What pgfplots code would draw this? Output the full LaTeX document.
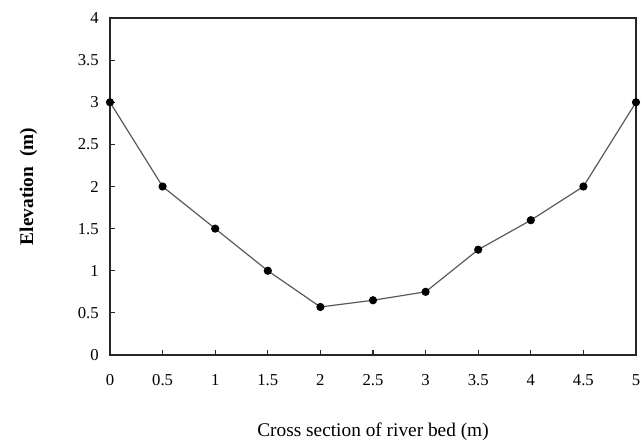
\documentclass[border=0pt]{standalone}
\usepackage{fontspec}
\setmainfont{Liberation Serif}
\usepackage{pgfplots}
\pgfplotsset{compat=1.18}
\usetikzlibrary{calc}
\begin{document}
\begin{tikzpicture}
\begin{axis}[
  scale only axis,
  width=394.5pt, height=252.75pt,
  xmin=0, xmax=5, ymin=0, ymax=4,
  xtick={0,0.5,...,5}, ytick={0,0.5,...,4},
  tick align=inside,
  xtick pos=bottom, ytick pos=left,
  major tick length=3.5pt,
  tick style={black!85, line width=0.8pt},
  axis line style={black!85, line width=0.9pt},
  /pgf/number format/assume math mode=true,
  ticklabel style={font=\fontsize{12.5}{14}\selectfont},
  xticklabel style={yshift=-11pt},
  yticklabel style={xshift=-5pt},
  xlabel={Cross section of river bed (m)},
  ylabel={\textbf{Elevation\ \ (m)}},
  label style={font=\fontsize{14.5}{16}\selectfont},
  xlabel style={at={(axis description cs:0.5,-0.228)}, anchor=center},
  ylabel style={at={(axis description cs:-0.155,0.5)}, anchor=center, rotate=0},
  clip=false,
]
\addplot[color=black!65, line width=0.9pt, mark=*, mark size=2.6pt, mark options={fill=black, draw=black}]
coordinates {
(0,3.0) (0.5,2.0) (1,1.5) (1.5,1.0) (2,0.57) (2.5,0.65) (3,0.75) (3.5,1.25) (4,1.6) (4.5,2.0) (5,3.0)
};
\end{axis}
\pgfresetboundingbox
\path ($(current axis.south west)+(-82.5pt,-66pt)$) rectangle ($(current axis.north east)+(6pt,13.5pt)$);
\end{tikzpicture}
\end{document}
